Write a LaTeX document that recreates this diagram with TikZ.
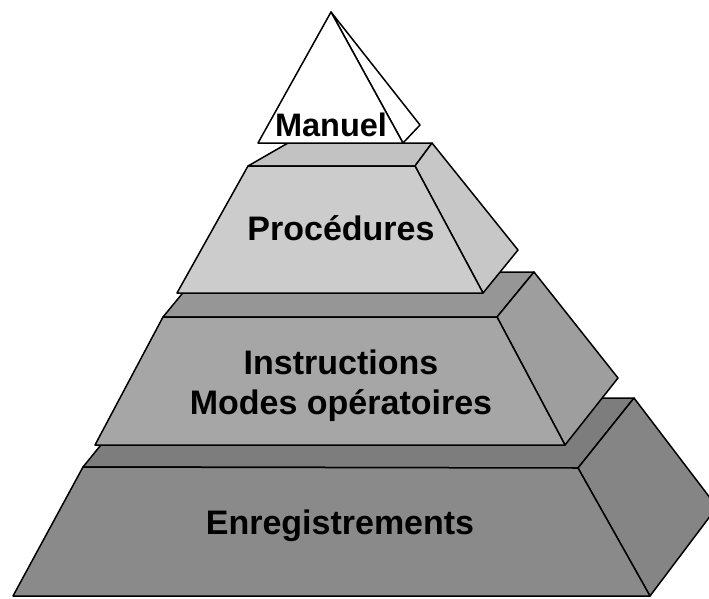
\documentclass[tikz,border=0pt]{standalone}
\usepackage{fontspec}
\setmainfont{Liberation Sans}
\usetikzlibrary{positioning}

\definecolor{recfront}{gray}{0.54}
\definecolor{rectop}{gray}{0.49}
\definecolor{recside}{gray}{0.52}
\definecolor{insfront}{gray}{0.65}
\definecolor{instop}{gray}{0.59}
\definecolor{insside}{gray}{0.62}
\definecolor{profront}{gray}{0.80}
\definecolor{protop}{gray}{0.76}
\definecolor{proside}{gray}{0.78}

\begin{document}
\begin{tikzpicture}[x=1pt,y=-1pt,
  face/.style={draw=black,line width=1.5pt,line join=round},
  layertext/.style={font=\bfseries\fontsize{34}{40}\selectfont,align=center,inner sep=0pt}]
  \useasboundingbox (0,0) rectangle (709,598);
  \clip (0,0) rectangle (709,598);

  % Enregistrements (base)
  \fill[face,fill=rectop]   (83,467) -- (139,398) -- (634,398) -- (578,468) -- cycle;
  \fill[face,fill=recside]  (578,468) -- (634,398) -- (717,507) -- (650,596) -- cycle;
  \fill[face,fill=recfront] (83,467) -- (578,468) -- (650,596) -- (13,596) -- cycle;

  % Instructions / Modes operatoires
  \fill[face,fill=instop]   (163,317) -- (200,272) -- (534,272) -- (497,317) -- cycle;
  \fill[face,fill=insside]  (497,317) -- (534,272) -- (618,378) -- (565,445) -- cycle;
  \fill[face,fill=insfront] (163,317) -- (497,317) -- (565,445) -- (95,445) -- cycle;

  % Procedures
  \fill[face,fill=protop]   (248,166) -- (288,143) -- (432,143) -- (415,166) -- cycle;
  \fill[face,fill=proside]  (415,166) -- (432,143) -- (518,250) -- (483,293) -- cycle;
  \fill[face,fill=profront] (248,166) -- (415,166) -- (483,293) -- (177,293) -- cycle;

  % Manuel (apex)
  \fill[face,fill=white] (331,12) -- (403,143) -- (420,125) -- cycle;
  \fill[face,fill=white] (331,12) -- (258,143) -- (403,143) -- cycle;

  \node[layertext,font=\bfseries\fontsize{32.5}{40}\selectfont] (manuel) at (331,125) {Manuel};
  \node[layertext] (proc)    at (341,228) {Procédures};
  \node[layertext] (instr)   at (341,386) {Instructions\\Modes opératoires};
  \node[layertext] (enreg)   at (340,526) {Enregistrements};
\end{tikzpicture}
\end{document}
